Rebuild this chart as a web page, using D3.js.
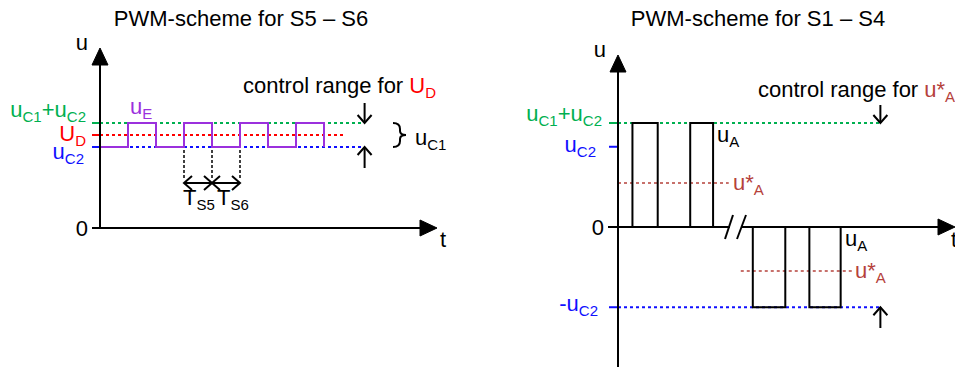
<!DOCTYPE html>
<html>
<head>
<meta charset="utf-8">
<script src="https://cdn.jsdelivr.net/npm/d3@7"></script>
<style>
  body { margin: 0; background: #fff; }
  svg text { font-family: "Liberation Sans", Arial, sans-serif; }
</style>
</head>
<body>
<div id="chart"></div>
<script>
// chart values
var titles = ["PWM-scheme for S5 – S6", "PWM-scheme for S1 – S4"];
var leftLevelNames = ["uC1+uC2", "UD", "uC2"];
var leftLevelValues = [8.75, 7.75, 6.75];
var uEEdges = [1, 2, 3, 4, 5, 6, 7, 8];       // switching instants of uE
var tsMarks = [3, 4, 5];                      // TS5 / TS6 boundaries
var tsLabels = ["S5", "S6"];
var rightLevelNames = ["uC1+uC2", "uC2", "-uC2"];
var rightLevelValues = [8.75, 6.75, -6.75];
var uAPosPulses = [[0.6, 1.65], [3.0, 3.95]];
var uANegPulses = [[5.6, 6.95], [7.95, 9.25]];
var uStarA = [3.7, -3.7];

var W = 955, H = 367;
var GREEN = "#00b050", RED = "#ff0000", BLUE = "#1010ff", PURPLE = "#9b30dd", BROWN = "#b5413b";

var svg = d3.select("#chart").append("svg")
  .attr("width", W).attr("height", H);

// scales
var xL = d3.scaleLinear().domain([0, 12]).range([100, 436]);
var yL = d3.scaleLinear().domain([0, 8.75]).range([228, 123]);
var xR = d3.scaleLinear().domain([0, 14]).range([618, 955]);
var yR = d3.scaleLinear().domain([0, 8.75]).range([227, 123]);

// helpers
function label(g, x, y, parts, anchor, color) {
  var t = g.append("text").attr("x", x).attr("y", y)
    .attr("text-anchor", anchor || "start")
    .attr("fill", color || "#000")
    .style("font-size", "22px");
  parts.forEach(function(p) {
    var ts = t.append("tspan").text(p.s);
    if (p.fill) ts.attr("fill", p.fill);
    if (p.sub) ts.style("font-size", "15px").attr("dy", 5);
    else if (p.back) ts.attr("dy", -5);
  });
  return t;
}
// split "uC1+uC2" like strings into normal / subscript parts
function parts(name) {
  var map = {
    "uC1+uC2": [{s:"u"},{s:"C1",sub:1},{s:"+u",back:1},{s:"C2",sub:1}],
    "UD": [{s:"U"},{s:"D",sub:1}],
    "uC2": [{s:"u"},{s:"C2",sub:1}],
    "-uC2": [{s:"-u"},{s:"C2",sub:1}]
  };
  return map[name];
}
function arrowHead(g, x, y, dir, filled) {
  var L = filled ? 17 : 8, w = filled ? 8 : 7;
  var pts;
  if (dir == "up") pts = [[x - w, y + L], [x, y], [x + w, y + L]];
  if (dir == "down") pts = [[x - w, y - L], [x, y], [x + w, y - L]];
  if (dir == "right") pts = [[x - L, y - w], [x, y], [x - L, y + w]];
  if (dir == "left") pts = [[x + L, y - w], [x, y], [x + L, y + w]];
  g.append("path")
    .attr("d", "M" + pts.join("L") + (filled ? "Z" : ""))
    .attr("fill", filled ? "#000" : "none")
    .attr("stroke", "#000").attr("stroke-width", filled ? 1 : 2);
}

// ---------- left panel ----------
var gl = svg.append("g");
gl.append("text").attr("x", 241).attr("y", 26).attr("text-anchor", "middle")
  .style("font-size", "22px").text(titles[0]);

var leftColors = [GREEN, RED, BLUE];
var leftEnds = [9.45, 8.7, 9.45];
leftLevelValues.forEach(function(v, i) {
  gl.append("line").attr("x1", 92).attr("x2", xL(0))
    .attr("y1", yL(v)).attr("y2", yL(v))
    .attr("stroke", leftColors[i]).attr("stroke-width", 2);
  gl.append("line").attr("x1", xL(0)).attr("x2", xL(leftEnds[i]))
    .attr("y1", yL(v)).attr("y2", yL(v))
    .attr("stroke", leftColors[i]).attr("stroke-width", 2)
    .attr("stroke-dasharray", "3,3");
});
label(gl, 86, 117, parts(leftLevelNames[0]), "end", GREEN);
label(gl, 86, 141, parts(leftLevelNames[1]), "end", RED);
label(gl, 84, 159, parts(leftLevelNames[2]), "end", BLUE);

// uE waveform
var uEPoints = [{t: 0, v: leftLevelValues[2]}];
uEEdges.forEach(function(t, i) {
  uEPoints.push({t: t, v: i % 2 == 0 ? leftLevelValues[0] : leftLevelValues[2]});
});
gl.append("path").datum(uEPoints)
  .attr("d", d3.line().x(function(d){ return xL(d.t); }).y(function(d){ return yL(d.v); }).curve(d3.curveStepAfter))
  .attr("fill", "none").attr("stroke", PURPLE).attr("stroke-width", 2);
label(gl, 130, 114, [{s:"u"},{s:"E",sub:1}], "start", PURPLE);

// axes
gl.append("line").attr("x1", xL(0)).attr("x2", xL(0)).attr("y1", yL(0)).attr("y2", 60)
  .attr("stroke", "#000").attr("stroke-width", 2);
arrowHead(gl, xL(0), 48, "up", true);
gl.append("line").attr("x1", 92).attr("x2", 425).attr("y1", yL(0)).attr("y2", yL(0))
  .attr("stroke", "#000").attr("stroke-width", 2);
arrowHead(gl, 437, yL(0), "right", true);
label(gl, 88, 50, [{s:"u"}], "end");
label(gl, 88, 236, [{s:"0"}], "end");
label(gl, 440, 247, [{s:"t"}], "start");

// control range
label(gl, 243, 93, [{s:"control range for "},{s:"U",fill:RED},{s:"D",sub:1,fill:RED}], "start");
var xc = xL(9.45);
gl.append("line").attr("x1", xc).attr("x2", xc).attr("y1", 103).attr("y2", yL(leftLevelValues[0]))
  .attr("stroke", "#000").attr("stroke-width", 2);
arrowHead(gl, xc, yL(leftLevelValues[0]), "down", false);
gl.append("line").attr("x1", xc).attr("x2", xc).attr("y1", 168).attr("y2", yL(leftLevelValues[2]))
  .attr("stroke", "#000").attr("stroke-width", 2);
arrowHead(gl, xc, yL(leftLevelValues[2]), "up", false);
var b0 = yL(leftLevelValues[0]), b1 = yL(leftLevelValues[2]), bm = (b0 + b1) / 2;
gl.append("path")
  .attr("d", "M393," + b0 + " q7,0 7,6 V" + (bm - 4) + " q0,4 6,4 q-6,0 -6,4 V" + (b1 - 6) + " q0,6 -7,6")
  .attr("fill", "none").attr("stroke", "#000").attr("stroke-width", 2);
label(gl, 415, 145, [{s:"u"},{s:"C1",sub:1}], "start");

// TS markers
tsMarks.forEach(function(t) {
  gl.append("line").attr("x1", xL(t)).attr("x2", xL(t)).attr("y1", 150).attr("y2", 178)
    .attr("stroke", "#000").attr("stroke-width", 1.5).attr("stroke-dasharray", "3,2");
});
for (var i = 0; i < tsMarks.length - 1; i++) {
  var a = xL(tsMarks[i]), b = xL(tsMarks[i + 1]);
  gl.append("line").attr("x1", a).attr("x2", b).attr("y1", 183).attr("y2", 183)
    .attr("stroke", "#000").attr("stroke-width", 2);
  arrowHead(gl, a, 183, "left", false);
  arrowHead(gl, b, 183, "right", false);
  label(gl, a + (i == 0 ? -1 : 5), 205, [{s:"T"},{s:tsLabels[i],sub:1}], "start");
}

// ---------- right panel ----------
var gr = svg.append("g");
gr.append("text").attr("x", 758).attr("y", 26).attr("text-anchor", "middle")
  .style("font-size", "22px").text(titles[1]);

var rightColors = [GREEN, BLUE, BLUE];
var rightEnds = [10.9, null, 10.9];
rightLevelValues.forEach(function(v, i) {
  gr.append("line").attr("x1", 609).attr("x2", xR(0))
    .attr("y1", yR(v)).attr("y2", yR(v))
    .attr("stroke", rightColors[i]).attr("stroke-width", 2);
  if (rightEnds[i] != null)
    gr.append("line").attr("x1", xR(0)).attr("x2", xR(rightEnds[i]))
      .attr("y1", yR(v)).attr("y2", yR(v))
      .attr("stroke", rightColors[i]).attr("stroke-width", 2)
      .attr("stroke-dasharray", "3,3");
});
label(gr, 602, 121, parts(rightLevelNames[0]), "end", GREEN);
label(gr, 596, 152, parts(rightLevelNames[1]), "end", BLUE);
label(gr, 598, 311, parts(rightLevelNames[2]), "end", BLUE);

// u*A reference lines
var starSpans = [[0, 4.6], [5.1, 9.8]];
uStarA.forEach(function(v, i) {
  gr.append("line").attr("x1", xR(starSpans[i][0])).attr("x2", xR(starSpans[i][1]))
    .attr("y1", yR(v)).attr("y2", yR(v))
    .attr("stroke", BROWN).attr("stroke-width", 1.5).attr("stroke-dasharray", "3,3");
});
label(gr, 733, 190, [{s:"u*"},{s:"A",sub:1}], "start", BROWN);
label(gr, 855, 278, [{s:"u*"},{s:"A",sub:1}], "start", BROWN);

// uA pulses
var pulseLine = d3.line().x(function(d){ return xR(d[0]); }).y(function(d){ return yR(d[1]); });
uAPosPulses.concat(uANegPulses).forEach(function(p, i) {
  var lvl = i < uAPosPulses.length ? rightLevelValues[0] : rightLevelValues[2];
  gr.append("path").datum([[p[0], 0], [p[0], lvl], [p[1], lvl], [p[1], 0]])
    .attr("d", pulseLine).attr("fill", "none")
    .attr("stroke", "#000").attr("stroke-width", 2);
});
label(gr, 717, 142, [{s:"u"},{s:"A",sub:1}], "start");
label(gr, 845, 246, [{s:"u"},{s:"A",sub:1}], "start");

// axes
gr.append("line").attr("x1", xR(0)).attr("x2", xR(0)).attr("y1", H).attr("y2", 67)
  .attr("stroke", "#000").attr("stroke-width", 2);
arrowHead(gr, xR(0), 55, "up", true);
gr.append("line").attr("x1", 608).attr("x2", 730).attr("y1", yR(0)).attr("y2", yR(0))
  .attr("stroke", "#000").attr("stroke-width", 2);
gr.append("line").attr("x1", 741).attr("x2", 943).attr("y1", yR(0)).attr("y2", yR(0))
  .attr("stroke", "#000").attr("stroke-width", 2);
arrowHead(gr, 955, yR(0), "right", true);
[[725, 733], [737, 746]].forEach(function(s) {
  gr.append("line").attr("x1", s[0]).attr("y1", 239).attr("x2", s[1]).attr("y2", 215)
    .attr("stroke", "#000").attr("stroke-width", 2);
});
label(gr, 606, 57, [{s:"u"}], "end");
label(gr, 604, 235, [{s:"0"}], "end");
label(gr, 951, 247, [{s:"t"}], "start");

// control range
label(gr, 758, 97, [{s:"control range for "},{s:"u*",fill:BROWN},{s:"A",sub:1,fill:BROWN}], "start");
var xc2 = xR(10.9);
gr.append("line").attr("x1", xc2).attr("x2", xc2).attr("y1", 105).attr("y2", yR(rightLevelValues[0]))
  .attr("stroke", "#000").attr("stroke-width", 2);
arrowHead(gr, xc2, yR(rightLevelValues[0]), "down", false);
gr.append("line").attr("x1", xc2).attr("x2", xc2).attr("y1", 328).attr("y2", yR(rightLevelValues[2]))
  .attr("stroke", "#000").attr("stroke-width", 2);
arrowHead(gr, xc2, yR(rightLevelValues[2]), "up", false);
</script>
</body>
</html>
